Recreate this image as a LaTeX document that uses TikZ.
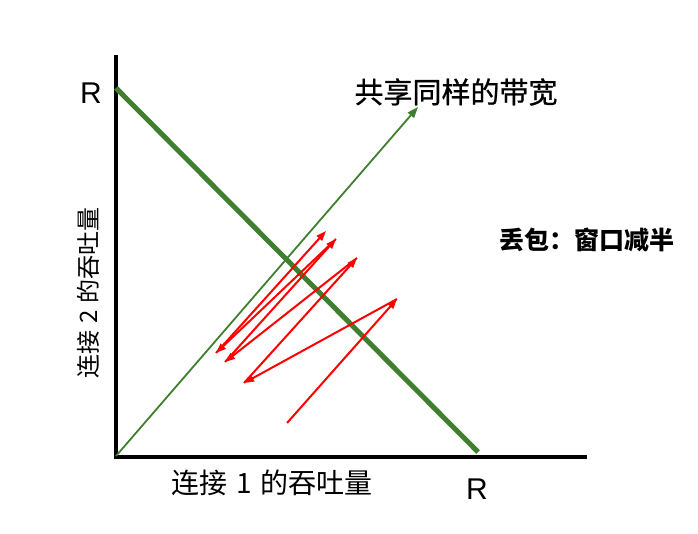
\documentclass[tikz,border=0pt]{standalone}
\usepackage{fontspec}
\setmainfont{Liberation Sans}
\newfontfamily\cjk{Noto Sans CJK SC}
\newfontfamily\cjkmed[FakeBold=0.8]{Noto Sans CJK SC}
\usetikzlibrary{arrows.meta}
\definecolor{gr}{HTML}{3F7F2F}
\tikzset{
  axis/.style={line width=4pt,black},
  fairline/.style={line width=5pt,gr},
  shareline/.style={line width=1.8pt,gr,-{Triangle[length=11pt,width=8pt]}},
  redarr/.style={line width=2pt,red,-{Triangle[length=10pt,width=7pt]}},
  rlabel/.style={font=\fontsize{30}{32}\selectfont},
}
\begin{document}
\begin{tikzpicture}[x=1pt,y=-1pt]
\useasboundingbox (0,0) rectangle (698,534);
\coordinate (O) at (116,457);
\coordinate (Ytop) at (116,55);
\coordinate (Xend) at (587,457);
\coordinate (RY) at (116,88);
\coordinate (RX) at (478,452);
\coordinate (S) at (116,456);
\coordinate (Send) at (418,107);
\draw[axis] (O) -- (Ytop);
\draw[axis] ([xshift=-2pt]O) -- (Xend);
\draw[fairline] (RY) -- (RX);
\draw[shareline] (S) -- (Send);
\coordinate (p0) at (287,423);
\coordinate (p1) at (397,299);
\coordinate (p2) at (244,383);
\coordinate (p3) at (357,258);
\coordinate (p4) at (225,362);
\coordinate (p5) at (336,239);
\coordinate (p6) at (216,353);
\coordinate (p7) at (326,231);
\draw[redarr] (p0) -- (p1);
\draw[redarr] (p1) -- (p2);
\draw[redarr] (p2) -- (p3);
\draw[redarr] (p3) -- (p4);
\draw[redarr] (p4) -- (p5);
\draw[redarr] (p5) -- (p6);
\draw[redarr] (p6) -- (p7);
\node[rlabel] (r1) at (91,93) {R};
\node[rlabel] (r2) at (477,489) {R};
\node[font=\cjkmed\fontsize{29}{31}\selectfont] (share) at (456,92) {共享同样的带宽};
\node[font=\cjk\fontsize{25}{27}\selectfont\bfseries] (loss) at (587,240) {丢包：窗口减半};
\node[font=\cjk\fontsize{28}{30}\selectfont] (xl) at (272,483) {连接\hspace{0.3em}1\hspace{0.3em}的吞吐量};
\node[font=\cjk\fontsize{24}{26}\selectfont,rotate=90] (yl) at (88,293) {连接\hspace{0.3em}2\hspace{0.3em}的吞吐量};
\end{tikzpicture}
\end{document}
